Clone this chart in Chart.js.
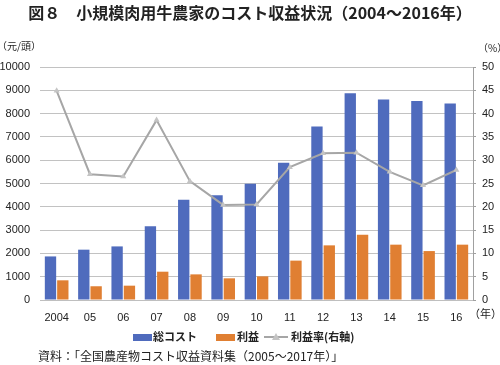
<!DOCTYPE html>
<html>
<head>
<meta charset="utf-8">
<script src="https://cdn.jsdelivr.net/npm/chart.js@4/dist/chart.umd.min.js"></script>
<style>
  html, body { margin: 0; padding: 0; background: #fff; }
  #wrap { width: 500px; height: 365px; position: relative; }
</style>
</head>
<body>
<div id="wrap"><canvas id="chart" width="500" height="365"></canvas></div>
<script>
const years = ['2004', '05', '06', '07', '08', '09', '10', '11', '12', '13', '14', '15', '16'];
const totalCost = [1870, 2160, 2300, 3160, 4300, 4500, 4990, 5890, 7450, 8870, 8600, 8540, 8430];
const profit = [845, 590, 615, 1215, 1100, 930, 1015, 1690, 2345, 2800, 2375, 2100, 2375];
const profitRate = [44.9, 27.0, 26.5, 38.6, 25.5, 20.4, 20.5, 28.5, 31.5, 31.6, 27.5, 24.6, 27.9];
const leftTicks = [0, 1000, 2000, 3000, 4000, 5000, 6000, 7000, 8000, 9000, 10000];
const rightTicks = [0, 5, 10, 15, 20, 25, 30, 35, 40, 45, 50];

const blue = '#4f6bbd';
const orange = '#e07f32';
const grey = '#a6a6a6';
const jp = '"Noto Sans CJK JP", "Noto Sans", sans-serif';
const latin = '"Liberation Sans", Arial, sans-serif';

const textPlugin = {
    id: 'extraText',
    afterDraw(chart) {
        const ctx = chart.ctx;
        ctx.save();
        ctx.fillStyle = '#222';
        ctx.textBaseline = 'middle';

        // title
        ctx.font = 'bold 16px ' + jp;
        ctx.textAlign = 'center';
        ctx.fillText('図８　小規模肉用牛農家のコスト収益状況（2004～2016年）', 250, 13, 452);

        // unit labels
        ctx.font = '10px ' + jp;
        ctx.textAlign = 'left';
        ctx.fillText('（元/頭）', -3, 46);
        ctx.fillText('（%）', 478, 48);
        ctx.font = '11px ' + jp;
        ctx.fillText('（年）', 469, 314);

        // legend
        const ly = 337;
        ctx.font = 'bold 11px ' + jp;
        ctx.fillStyle = blue;
        ctx.fillRect(133, ly - 3, 19, 7);
        ctx.fillStyle = orange;
        ctx.fillRect(216, ly - 3, 19, 7);
        ctx.strokeStyle = grey;
        ctx.lineWidth = 2;
        ctx.beginPath();
        ctx.moveTo(264, ly);
        ctx.lineTo(288, ly);
        ctx.stroke();
        ctx.fillStyle = '#c4c4c4';
        ctx.beginPath();
        ctx.moveTo(276, ly - 4);
        ctx.lineTo(280, ly + 3);
        ctx.lineTo(272, ly + 3);
        ctx.closePath();
        ctx.fill();
        ctx.fillStyle = '#222';
        ctx.fillText('総コスト', 153, ly);
        ctx.fillText('利益', 237, ly);
        ctx.fillText('利益率(右軸)', 291, ly);

        // source
        ctx.font = '12px ' + jp;
        ctx.fillText('資料：「全国農産物コスト収益資料集（2005～2017年）」', 38, 356);
        ctx.restore();
    }
};

new Chart(document.getElementById('chart'), {
    type: 'bar',
    data: {
        labels: years,
        datasets: [
            {
                type: 'line',
                label: '利益率(右軸)',
                data: profitRate,
                yAxisID: 'y2',
                borderColor: grey,
                borderWidth: 2,
                pointStyle: 'triangle',
                pointRadius: 3.5,
                pointBackgroundColor: '#c4c4c4',
                pointBorderColor: '#c4c4c4',
                pointBorderWidth: 0,
                tension: 0,
                order: 0
            },
            {
                label: '総コスト',
                data: totalCost,
                backgroundColor: blue,
                yAxisID: 'y',
                categoryPercentage: 0.74,
                barPercentage: 0.92,
                order: 1
            },
            {
                label: '利益',
                data: profit,
                backgroundColor: orange,
                yAxisID: 'y',
                categoryPercentage: 0.74,
                barPercentage: 0.92,
                order: 1
            }
        ]
    },
    options: {
        responsive: false,
        animation: false,
        layout: { padding: { top: 67, bottom: 35, left: 0, right: 0 } },
        plugins: {
            legend: { display: false },
            title: { display: false },
            tooltip: { enabled: false }
        },
        scales: {
            x: {
                grid: { display: false },
                border: { display: true, color: '#bfbfbf' },
                ticks: { color: '#222', font: { family: latin, size: 11 }, padding: 3, maxRotation: 0 },
                afterFit(scale) { scale.height = 30; }
            },
            y: {
                position: 'left',
                min: 0,
                max: 10000,
                afterBuildTicks(scale) { scale.ticks = leftTicks.map(v => ({ value: v })); },
                grid: { color: '#c2c2c2', drawTicks: false },
                border: { display: false },
                ticks: {
                    color: '#222',
                    font: { family: latin, size: 11 },
                    padding: 10,
                    callback: v => String(v)
                },
                afterFit(scale) { scale.width = 40; }
            },
            y2: {
                position: 'right',
                min: 0,
                max: 50,
                afterBuildTicks(scale) { scale.ticks = rightTicks.map(v => ({ value: v })); },
                grid: { drawOnChartArea: false, drawTicks: true, tickLength: 3, color: '#a0a0a0' },
                border: { display: true, color: '#a0a0a0' },
                ticks: { color: '#222', font: { family: latin, size: 11 }, padding: 6 },
                afterFit(scale) { scale.width = 27; }
            }
        }
    },
    plugins: [textPlugin]
});
</script>
</body>
</html>
